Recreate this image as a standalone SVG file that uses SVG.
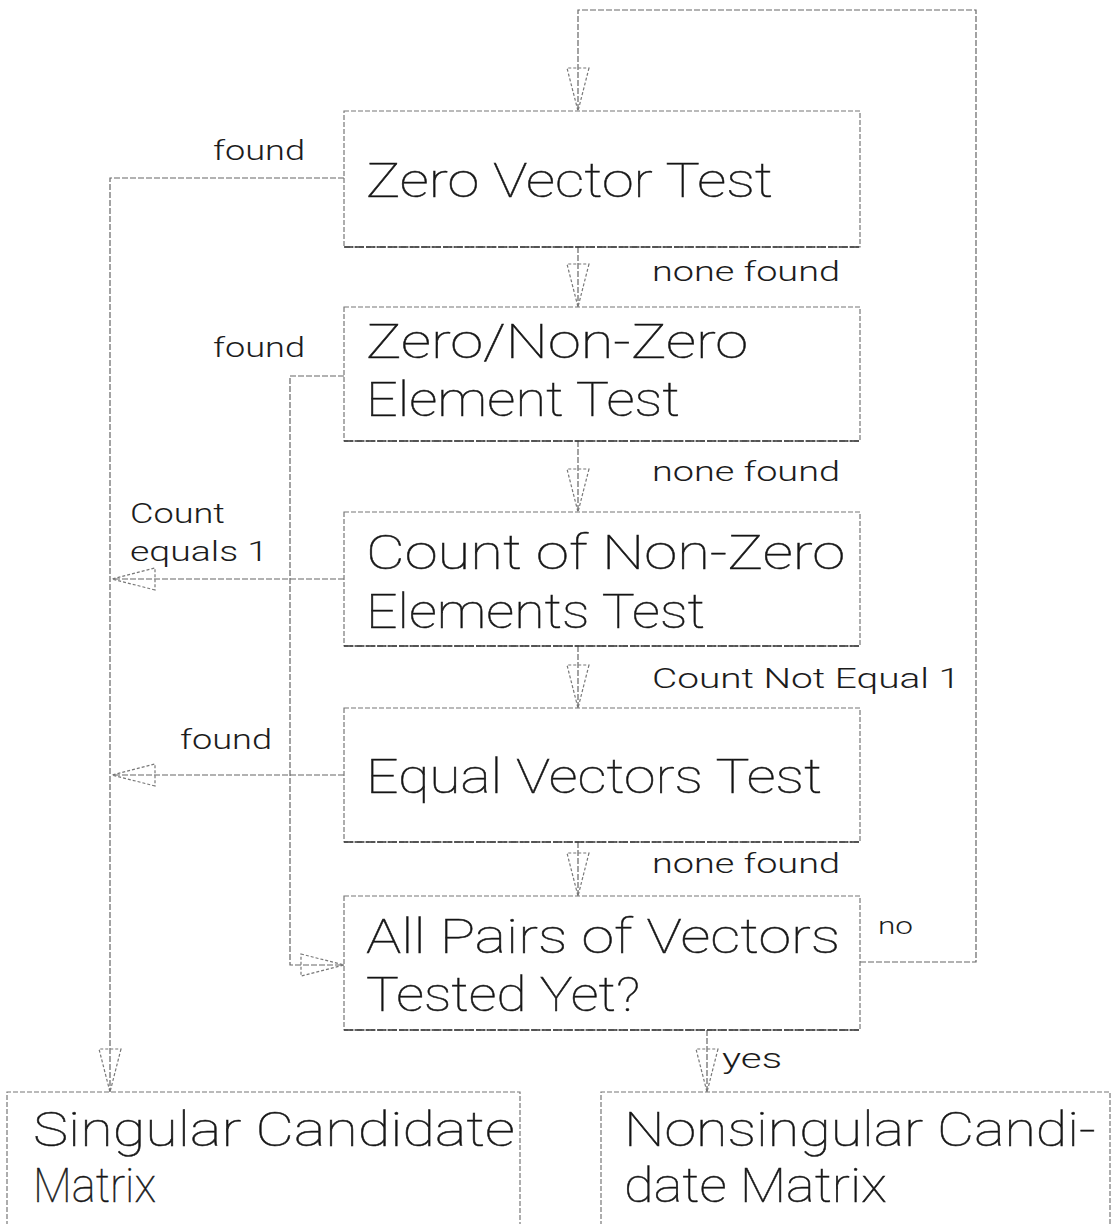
<svg xmlns="http://www.w3.org/2000/svg" width="1114" height="1224" viewBox="0 0 1114 1224">
  <defs>
    <style>
      .box { fill: none; stroke: #777; stroke-width: 1.2; stroke-dasharray: 5 2; }
      .base { stroke: #333; stroke-width: 1.6; stroke-dasharray: 9 2; }
      .wire { fill: none; stroke: #666; stroke-width: 1.2; stroke-dasharray: 6 2; }
      /* thin plotter lettering */
      .main { font-family: Roboto, "Liberation Sans", "DejaVu Sans", sans-serif; font-weight: 100; font-size: 49px; fill: #111; stroke: #222; stroke-width: 0.5px; }
      .lbl { font-family: Roboto, "Liberation Sans", "DejaVu Sans", sans-serif; font-weight: 300; font-size: 28px; fill: #1c1c1c; }
      .small { font-family: Roboto, "Liberation Sans", "DejaVu Sans", sans-serif; font-weight: 300; font-size: 24px; fill: #1c1c1c; }
    </style>
    <!-- hollow plotter-style arrowhead; the stem of the connector runs through it -->
    <marker id="head" markerUnits="userSpaceOnUse" viewBox="-2 -13 48 26" markerWidth="48" markerHeight="26" refX="43" refY="0" orient="auto">
      <path d="M0,-11 L43,0 L0,11 Z" fill="none" stroke="#777" stroke-width="1.2" stroke-dasharray="3 2"/>
    </marker>
  </defs>

  <g id="connectors">
    <!-- loop back from "no" to the top -->
    <path class="wire" d="M860,962 H976 V10 H578 V111" marker-end="url(#head)"/>
    <!-- main chain -->
    <path class="wire" d="M578,247 V307" marker-end="url(#head)"/>
    <path class="wire" d="M578,441 V512" marker-end="url(#head)"/>
    <path class="wire" d="M578,646 V708" marker-end="url(#head)"/>
    <path class="wire" d="M578,842 V896" marker-end="url(#head)"/>
    <path class="wire" d="M707,1030 V1092" marker-end="url(#head)"/>
    <!-- singular path on the left -->
    <path class="wire" d="M344,178 H110 V1092" marker-end="url(#head)"/>
    <path class="wire" d="M344,579 H112" marker-end="url(#head)"/>
    <path class="wire" d="M344,775 H112" marker-end="url(#head)"/>
    <!-- zero/non-zero found: skip to next pair -->
    <path class="wire" d="M344,376 H290 V965 H344" marker-end="url(#head)"/>
  </g>

  <g id="labels">
    <text class="lbl" x="213" y="160" textLength="92" lengthAdjust="spacingAndGlyphs">found</text>
    <text class="lbl" x="652" y="281" textLength="188" lengthAdjust="spacingAndGlyphs">none found</text>
    <text class="lbl" x="213" y="357" textLength="92" lengthAdjust="spacingAndGlyphs">found</text>
    <text class="lbl" x="652" y="481" textLength="188" lengthAdjust="spacingAndGlyphs">none found</text>
    <text class="lbl" x="130" y="523" textLength="95" lengthAdjust="spacingAndGlyphs">Count</text>
    <text class="lbl" x="130" y="561" textLength="138" lengthAdjust="spacingAndGlyphs">equals 1</text>
    <text class="lbl" x="652" y="688" textLength="308" lengthAdjust="spacingAndGlyphs">Count Not Equal 1</text>
    <text class="lbl" x="180" y="749" textLength="92" lengthAdjust="spacingAndGlyphs">found</text>
    <text class="lbl" x="652" y="873" textLength="188" lengthAdjust="spacingAndGlyphs">none found</text>
    <text class="small" x="878" y="934" textLength="35" lengthAdjust="spacingAndGlyphs">no</text>
    <text class="lbl" x="722" y="1068" textLength="60" lengthAdjust="spacingAndGlyphs">yes</text>
  </g>

  <g id="zero-vector-test">
    <rect class="box" x="344" y="111" width="516" height="136"/>
    <line class="base" x1="344" y1="247" x2="860" y2="247"/>
    <text class="main" x="366" y="197" textLength="407" lengthAdjust="spacingAndGlyphs">Zero Vector Test</text>
  </g>

  <g id="zero-nonzero-element-test">
    <rect class="box" x="344" y="307" width="516" height="134"/>
    <line class="base" x1="344" y1="441" x2="860" y2="441"/>
    <text class="main" x="366" y="358" textLength="382" lengthAdjust="spacingAndGlyphs">Zero/Non-Zero</text>
    <text class="main" x="366" y="416" textLength="314" lengthAdjust="spacingAndGlyphs">Element Test</text>
  </g>

  <g id="count-nonzero-test">
    <rect class="box" x="344" y="512" width="516" height="134"/>
    <line class="base" x1="344" y1="646" x2="860" y2="646"/>
    <text class="main" x="366" y="569" textLength="479" lengthAdjust="spacingAndGlyphs">Count of Non-Zero</text>
    <text class="main" x="366" y="628" textLength="339" lengthAdjust="spacingAndGlyphs">Elements Test</text>
  </g>

  <g id="equal-vectors-test">
    <rect class="box" x="344" y="708" width="516" height="134"/>
    <line class="base" x1="344" y1="842" x2="860" y2="842"/>
    <text class="main" x="366" y="793" textLength="456" lengthAdjust="spacingAndGlyphs">Equal Vectors Test</text>
  </g>

  <g id="all-pairs-tested">
    <rect class="box" x="344" y="896" width="516" height="134"/>
    <line class="base" x1="344" y1="1030" x2="860" y2="1030"/>
    <text class="main" x="366" y="953" textLength="474" lengthAdjust="spacingAndGlyphs">All Pairs of Vectors</text>
    <text class="main" x="366" y="1011" textLength="274" lengthAdjust="spacingAndGlyphs">Tested Yet?</text>
  </g>

  <g id="singular-candidate">
    <path class="box" d="M7,1240 V1092 H520 V1240"/>
    <text class="main" x="33" y="1146" textLength="482" lengthAdjust="spacingAndGlyphs">Singular Candidate</text>
    <text class="main" x="33" y="1202" textLength="123" lengthAdjust="spacingAndGlyphs">Matrix</text>
  </g>

  <g id="nonsingular-candidate">
    <path class="box" d="M601,1240 V1092 H1110 V1240"/>
    <text class="main" x="624" y="1146" textLength="472" lengthAdjust="spacingAndGlyphs">Nonsingular Candi-</text>
    <text class="main" x="624" y="1202" textLength="263" lengthAdjust="spacingAndGlyphs">date Matrix</text>
  </g>
</svg>
